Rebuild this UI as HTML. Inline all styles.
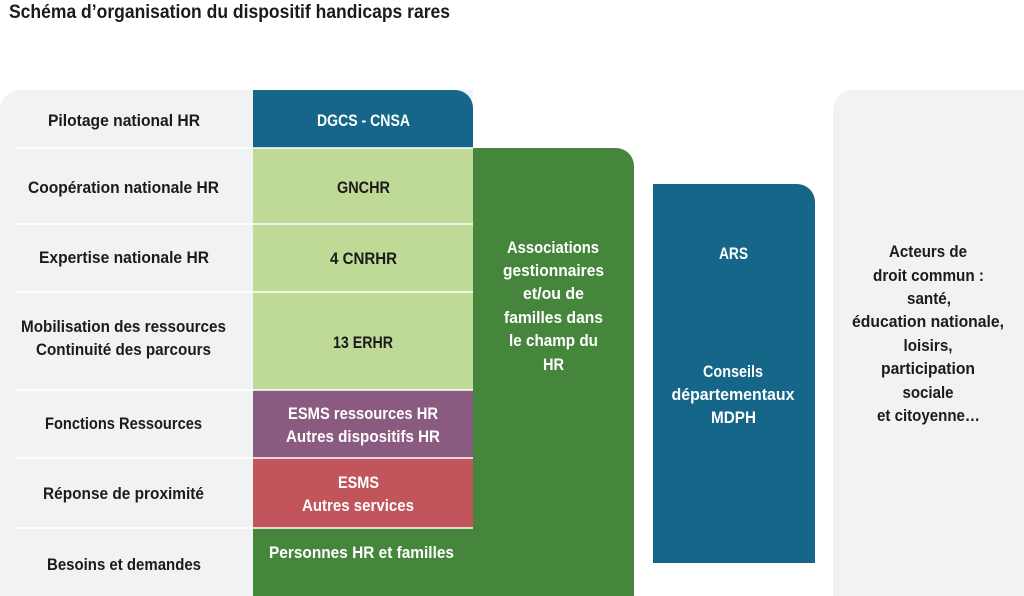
<!DOCTYPE html>
<html>
<head>
<meta charset="utf-8">
<style>
  html, body { margin:0; padding:0; background:#ffffff; }
  body { width:1024px; height:596px; overflow:hidden; }
  svg { display:block; }
  text { font-family: "Liberation Sans", "DejaVu Sans", sans-serif; font-weight:bold; font-size:17px; }
  .d { fill:#1b1b1b; }
  .w { fill:#ffffff; }
</style>
</head>
<body>
<svg width="1024" height="596" viewBox="0 0 1024 596" xmlns="http://www.w3.org/2000/svg">
  <!-- Title -->
  <text x="9" y="18" class="d" style="font-size:19px" textLength="441" lengthAdjust="spacingAndGlyphs">Schéma d’organisation du dispositif handicaps rares</text>

  <!-- Left gray panel -->
  <path d="M0,110 A20,20 0 0 1 20,90 H473 V596 H0 Z" fill="#f1f2f4"/>

  <!-- DGCS - CNSA -->
  <path d="M253,90 H455 A18,18 0 0 1 473,108 V148 H253 Z" fill="#156689"/>
  <!-- Light green -->
  <rect x="253" y="148" width="220" height="242" fill="#bfd996"/>
  <!-- Purple -->
  <rect x="253" y="390" width="220" height="68" fill="#8a5a80"/>
  <!-- Red -->
  <rect x="253" y="458" width="220" height="70" fill="#c1555b"/>
  <!-- Dark green (bottom + column) -->
  <path d="M473,148 H616 A18,18 0 0 1 634,166 V596 H253 V528 H473 Z" fill="#45863c"/>

  <!-- ARS blue -->
  <path d="M653,184 H797 A18,18 0 0 1 815,202 V563 H653 Z" fill="#156689"/>

  <!-- Right gray panel -->
  <path d="M833,110 A20,20 0 0 1 853,90 H1024 V596 H833 Z" fill="#f1f2f4"/>

  <!-- Separator lines -->
  <g stroke="#ffffff" stroke-width="1.5">
    <line x1="16" y1="148" x2="473" y2="148"/>
    <line x1="16" y1="224" x2="473" y2="224"/>
    <line x1="16" y1="292" x2="473" y2="292"/>
    <line x1="16" y1="390" x2="473" y2="390"/>
    <line x1="16" y1="458" x2="473" y2="458"/>
    <line x1="16" y1="528" x2="473" y2="528"/>
  </g>

  <!-- Left labels -->
  <g class="d" text-anchor="middle">
    <text x="124" y="126" textLength="152" lengthAdjust="spacingAndGlyphs">Pilotage national HR</text>
    <text x="123.5" y="193" textLength="191" lengthAdjust="spacingAndGlyphs">Coopération nationale HR</text>
    <text x="124" y="263" textLength="170" lengthAdjust="spacingAndGlyphs">Expertise nationale HR</text>
    <text x="123.5" y="332" textLength="205" lengthAdjust="spacingAndGlyphs">Mobilisation des ressources</text>
    <text x="123.5" y="355" textLength="175" lengthAdjust="spacingAndGlyphs">Continuité des parcours</text>
    <text x="123.5" y="429" textLength="157" lengthAdjust="spacingAndGlyphs">Fonctions Ressources</text>
    <text x="123.5" y="499" textLength="161" lengthAdjust="spacingAndGlyphs">Réponse de proximité</text>
    <text x="124" y="570" textLength="154" lengthAdjust="spacingAndGlyphs">Besoins et demandes</text>
  </g>

  <!-- Middle column labels -->
  <g text-anchor="middle">
    <text class="w" x="363.5" y="126" textLength="93" lengthAdjust="spacingAndGlyphs">DGCS - CNSA</text>
    <text class="d" x="363.5" y="193" textLength="53" lengthAdjust="spacingAndGlyphs">GNCHR</text>
    <text class="d" x="363.5" y="264" textLength="67" lengthAdjust="spacingAndGlyphs">4 CNRHR</text>
    <text class="d" x="363" y="348" textLength="60" lengthAdjust="spacingAndGlyphs">13 ERHR</text>
    <text class="w" x="363" y="419" textLength="150" lengthAdjust="spacingAndGlyphs">ESMS ressources HR</text>
    <text class="w" x="363" y="442" textLength="154" lengthAdjust="spacingAndGlyphs">Autres dispositifs HR</text>
    <text class="w" x="358.5" y="488" textLength="41" lengthAdjust="spacingAndGlyphs">ESMS</text>
    <text class="w" x="358" y="511" textLength="112" lengthAdjust="spacingAndGlyphs">Autres services</text>
    <text class="w" x="361.5" y="558" textLength="185" lengthAdjust="spacingAndGlyphs">Personnes HR et familles</text>
  </g>

  <!-- Green column labels -->
  <g class="w" text-anchor="middle">
    <text x="553" y="253" textLength="92" lengthAdjust="spacingAndGlyphs">Associations</text>
    <text x="553.5" y="276" textLength="101" lengthAdjust="spacingAndGlyphs">gestionnaires</text>
    <text x="553.5" y="299" textLength="61" lengthAdjust="spacingAndGlyphs">et/ou de</text>
    <text x="553.5" y="323" textLength="99" lengthAdjust="spacingAndGlyphs">familles dans</text>
    <text x="553.5" y="346" textLength="89" lengthAdjust="spacingAndGlyphs">le champ du</text>
    <text x="553.5" y="370" textLength="21" lengthAdjust="spacingAndGlyphs">HR</text>
  </g>

  <!-- ARS labels -->
  <g class="w" text-anchor="middle">
    <text x="733.5" y="259" textLength="29" lengthAdjust="spacingAndGlyphs">ARS</text>
    <text x="733" y="377" textLength="60" lengthAdjust="spacingAndGlyphs">Conseils</text>
    <text x="733" y="400" textLength="123" lengthAdjust="spacingAndGlyphs">départementaux</text>
    <text x="733.5" y="423" textLength="45" lengthAdjust="spacingAndGlyphs">MDPH</text>
  </g>

  <!-- Right panel labels -->
  <g class="d" text-anchor="middle">
    <text x="928" y="257" textLength="78" lengthAdjust="spacingAndGlyphs">Acteurs de</text>
    <text x="928.5" y="281" textLength="111" lengthAdjust="spacingAndGlyphs">droit commun :</text>
    <text x="929" y="304" textLength="44" lengthAdjust="spacingAndGlyphs">santé,</text>
    <text x="928" y="327" textLength="152" lengthAdjust="spacingAndGlyphs">éducation nationale,</text>
    <text x="928" y="351" textLength="49" lengthAdjust="spacingAndGlyphs">loisirs,</text>
    <text x="928" y="374" textLength="94" lengthAdjust="spacingAndGlyphs">participation</text>
    <text x="928" y="398" textLength="51" lengthAdjust="spacingAndGlyphs">sociale</text>
    <text x="928.5" y="421" textLength="103" lengthAdjust="spacingAndGlyphs">et citoyenne…</text>
  </g>
</svg>
</body>
</html>
